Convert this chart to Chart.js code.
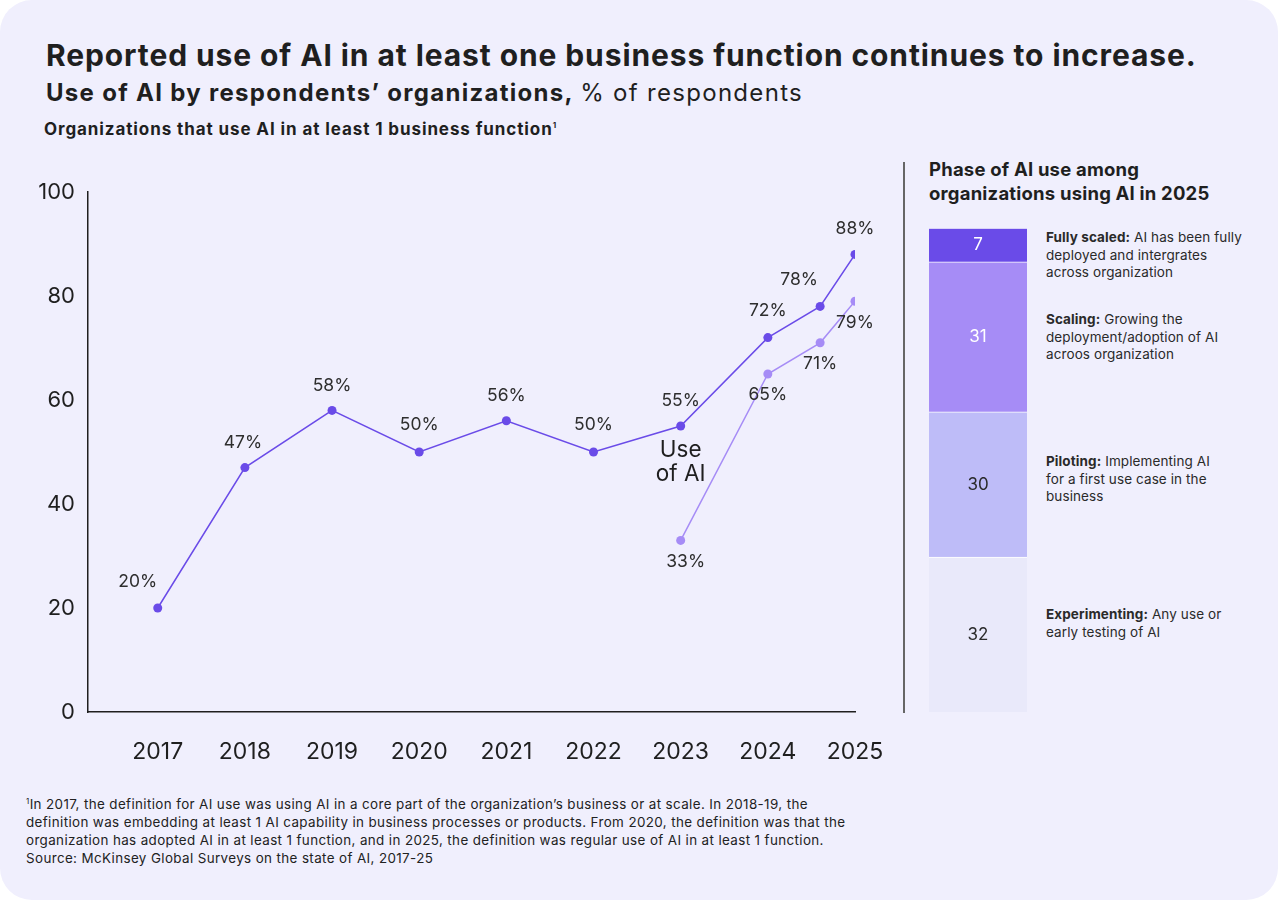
<!DOCTYPE html>
<html>
<head>
<meta charset="utf-8">
<script src="https://cdn.jsdelivr.net/npm/chart.js@4.4.1/dist/chart.umd.min.js"></script>
<style>
  body { margin: 0; background: #ffffff; font-family: "Inter", "Liberation Sans", sans-serif; color: #1f1f1f; }
  .card { position: absolute; left: 0; top: 0; width: 1278px; height: 900px; background: #f0effd; border-radius: 32px; overflow: hidden; }
  .abs { position: absolute; white-space: nowrap; }
  #title { left: 46px; top: 37px; font-size: 30px; font-weight: 700; letter-spacing: 0.9px; }
  #subtitle { left: 46px; top: 78px; font-size: 24px; font-weight: 700; letter-spacing: 1.3px; }
  #subtitle span { font-weight: 400; }
  #subhead { left: 44px; top: 119px; font-size: 17px; font-weight: 700; letter-spacing: 0.9px; }
  #lineWrap { position: absolute; left: 0; top: 150px; width: 900px; height: 640px; }
  #divider { position: absolute; left: 903px; top: 162px; width: 2px; height: 551px; background: #666666; }
  #phaseTitle { left: 929px; top: 157px; font-size: 18.5px; font-weight: 700; line-height: 24px; letter-spacing: 0.2px; }
  #barWrap { position: absolute; left: 929px; top: 228px; width: 98px; height: 484px; }
  .note { position: absolute; left: 1046px; font-size: 13.5px; line-height: 17.5px; white-space: nowrap; letter-spacing: 0.1px; color: #2a2a2a; }
  .note b { font-weight: 700; }
  #foot { left: 26px; top: 792px; font-size: 13.4px; line-height: 18px; letter-spacing: 0.38px; color: #222; }
</style>
</head>
<body>
<div class="card">
  <div class="abs" id="title">Reported use of AI in at least one business function continues to increase.</div>
  <div class="abs" id="subtitle">Use of AI by respondents’ organizations, <span>% of respondents</span></div>
  <div class="abs" id="subhead">Organizations that use AI in at least 1 business function<sup style="font-size:8px">1</sup></div>

  <div id="lineWrap"><canvas id="lineChart"></canvas></div>

  <div id="divider"></div>
  <div class="abs" id="phaseTitle">Phase of AI use among<br>organizations using AI in 2025</div>
  <div id="barWrap"><canvas id="barChart"></canvas></div>

  <div class="note" style="top:229px"><b>Fully scaled:</b> AI has been fully<br>deployed and intergrates<br>across organization</div>
  <div class="note" style="top:311px"><b>Scaling:</b> Growing the<br>deployment/adoption of AI<br>acroos organization</div>
  <div class="note" style="top:453px"><b>Piloting:</b> Implementing AI<br>for a first use case in the<br>business</div>
  <div class="note" style="top:606px"><b>Experimenting:</b> Any use or<br>early testing of AI</div>

  <div class="abs" id="foot"><sup style="font-size:8px">1</sup>In 2017, the definition for AI use was using AI in a core part of the organization’s business or at scale. In 2018-19, the<br>definition was embedding at least 1 AI capability in business processes or products. From 2020, the definition was that the<br>organization has adopted AI in at least 1 function, and in 2025, the definition was regular use of AI in at least 1 function.<br>Source: McKinsey Global Surveys on the state of AI, 2017-25</div>
</div>

<script>
// line chart data
const yearTicks = [2017, 2018, 2019, 2020, 2021, 2022, 2023, 2024, 2025];
const useYears = [2017, 2018, 2019, 2020, 2021, 2022, 2023, 2024, 2024.6, 2025];
const useValues = [20, 47, 58, 50, 56, 50, 55, 72, 78, 88];
const genYears = [2023, 2024, 2024.6, 2025];
const genValues = [33, 65, 71, 79];

// phase bar data (bottom to top)
const phaseNames = ["Experimenting", "Piloting", "Scaling", "Fully scaled"];
const phaseValues = [32, 30, 31, 7];

const purple = "#6a4be8";
const lilac = "#a68cf6";
const phaseColors = ["#e9e9fa", "#bebcf8", "#a68cf6", "#6a4be8"];
const phaseTextColors = ["#2a2a2a", "#2a2a2a", "#ffffff", "#ffffff"];

// label offsets (dx, dy) relative to each point
const useOffsets = [[-20, -26], [-2, -25], [0, -25], [0, -27], [0, -25], [0, -27], [0, -25], [0, -27], [-21, -27], [0, -26]];
const genOffsets = [[5, 21], [0, 21], [0, 21], [0, 22]];

function toPoints(xs, ys) {
  return xs.map((x, i) => ({ x: x, y: ys[i] }));
}

const pointLabels = {
  id: "pointLabels",
  afterDatasetsDraw(chart) {
    const ctx = chart.ctx;
    ctx.save();
    ctx.font = "17.5px Inter, sans-serif";
    ctx.fillStyle = "#2e2e2e";
    ctx.textAlign = "center";
    ctx.textBaseline = "middle";
    chart.data.datasets.forEach((ds, di) => {
      const meta = chart.getDatasetMeta(di);
      meta.data.forEach((pt, i) => {
        const off = ds.labelOffsets[i];
        ctx.fillText(ds.data[i].y + "%", pt.x + off[0], pt.y + off[1]);
      });
    });
    // series name under the 2023 point
    const p = chart.getDatasetMeta(0).data[6];
    ctx.font = "22.5px Inter, sans-serif";
    ctx.fillStyle = "#1f1f1f";
    ctx.fillText("Use", p.x, p.y + 24);
    ctx.fillText("of AI", p.x, p.y + 48);
    ctx.restore();
  }
};

new Chart(document.getElementById("lineChart"), {
  type: "line",
  data: {
    datasets: [
      {
        label: "Use of AI",
        data: toPoints(useYears, useValues),
        borderColor: purple,
        backgroundColor: purple,
        borderWidth: 1.5,
        pointRadius: 4.5,
        pointBorderWidth: 0,
        labelOffsets: useOffsets
      },
      {
        label: "Gen AI",
        data: toPoints(genYears, genValues),
        borderColor: lilac,
        backgroundColor: lilac,
        borderWidth: 1.5,
        pointRadius: 4.5,
        pointBorderWidth: 0,
        labelOffsets: genOffsets
      }
    ]
  },
  options: {
    responsive: true,
    maintainAspectRatio: false,
    animation: false,
    layout: { padding: { top: 42, right: 45, left: 0, bottom: 0 } },
    plugins: { legend: { display: false }, tooltip: { enabled: false } },
    scales: {
      x: {
        type: "linear",
        min: 2016.2,
        max: 2025,
        afterBuildTicks(axis) { axis.ticks = yearTicks.map(v => ({ value: v })); },
        afterFit(axis) { axis.height = 78; axis.paddingLeft = 0; axis.paddingRight = 0; },
        grid: { display: false, drawTicks: false },
        border: { display: true, color: "#1f1f1f", width: 1.5 },
        ticks: { padding: 26, color: "#1f1f1f", font: { family: "Inter", size: 23 }, callback: v => String(v), maxRotation: 0, autoSkip: false }
      },
      y: {
        min: 0,
        max: 100,
        afterFit(axis) { axis.width = 88; },
        grid: { display: false, drawTicks: false },
        border: { display: true, color: "#1f1f1f", width: 1.5 },
        ticks: { stepSize: 20, padding: 13, color: "#1f1f1f", font: { family: "Inter", size: 22 } }
      }
    }
  },
  plugins: [pointLabels]
});

const barLabels = {
  id: "barLabels",
  afterDatasetsDraw(chart) {
    const ctx = chart.ctx;
    ctx.save();
    ctx.font = "17px Inter, sans-serif";
    ctx.textAlign = "center";
    ctx.textBaseline = "middle";
    chart.data.datasets.forEach((ds, di) => {
      const bar = chart.getDatasetMeta(di).data[0];
      ctx.fillStyle = phaseTextColors[di];
      ctx.fillText(String(ds.data[0]), bar.x, (bar.y + bar.base) / 2);
    });
    ctx.restore();
  }
};

new Chart(document.getElementById("barChart"), {
  type: "bar",
  data: {
    labels: ["2025"],
    datasets: phaseNames.map((name, i) => ({
      label: name,
      data: [phaseValues[i]],
      backgroundColor: phaseColors[i],
      borderColor: "#ffffff",
      borderWidth: { top: 1, bottom: 0, left: 0, right: 0 },
      borderSkipped: false,
      barPercentage: 1,
      categoryPercentage: 1
    }))
  },
  options: {
    responsive: true,
    maintainAspectRatio: false,
    animation: false,
    layout: { padding: 0 },
    plugins: { legend: { display: false }, tooltip: { enabled: false } },
    scales: {
      x: { stacked: true, display: false },
      y: { stacked: true, display: false, min: 0, max: 100 }
    }
  },
  plugins: [barLabels]
});
</script>
</body>
</html>
